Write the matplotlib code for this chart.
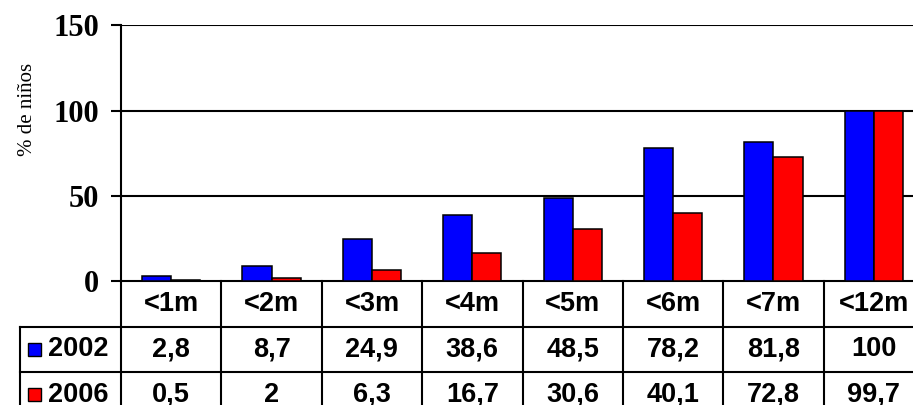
import matplotlib
matplotlib.use('Agg')
from matplotlib import pyplot as plt
import numpy as np

categories = ['<1m', '<2m', '<3m', '<4m', '<5m', '<6m', '<7m', '<12m']
series_names = ['2002', '2006']
values_2002 = [2.8, 8.7, 24.9, 38.6, 48.5, 78.2, 81.8, 100]
values_2006 = [0.5, 2, 6.3, 16.7, 30.6, 40.1, 72.8, 99.7]
colors = ['#0000ff', '#ff0000']
yticks = [0, 50, 100, 150]

W, H = 913, 405
fig = plt.figure(figsize=(W / 100, H / 100), dpi=100)
# axes deliberately runs past the right edge, like the original crop
ax = fig.add_axes([121 / W, (H - 281) / H, (924 - 121) / W, (281 - 25.5) / H])

x = np.arange(len(categories))
bw = 0.29
ax.bar(x - bw / 2, values_2002, bw, color=colors[0], edgecolor='black', linewidth=1.1, zorder=3)
ax.bar(x + bw / 2, values_2006, bw, color=colors[1], edgecolor='black', linewidth=1.1, zorder=3)

ax.set_xlim(-0.5, len(categories) - 0.5)
ax.set_ylim(0, 150)
ax.set_yticks(yticks)
ax.set_yticklabels([str(t) for t in yticks], fontfamily='Liberation Serif',
                   fontweight='bold', fontsize=22)
ax.tick_params(axis='y', length=7, width=1.5, pad=9, direction='out')
ax.set_xticks([])
for t in yticks[1:]:
    ax.axhline(t, color='black', linewidth=1.5, zorder=1)
for s in ['top', 'right']:
    ax.spines[s].set_visible(False)
ax.spines['left'].set_linewidth(1.5)
ax.spines['bottom'].set_linewidth(1.5)

fig.text(28 / W, (H - 109) / H, '% de niños', rotation=90, ha='center', va='center',
         fontfamily='Liberation Serif', fontsize=15)

# data table under the axis
tr = ax.get_xaxis_transform()
axh = 281 - 25.5
rows_px = [281, 327, 372, 417]
rows = [(281 - p) / axh for p in rows_px]
x_left = (20 - 121) / ((924 - 121) / len(categories)) - 0.5
xr = len(categories) - 0.5
lw = 1.5
for i in range(len(categories) + 1):
    ax.plot([i - 0.5, i - 0.5], [rows[0], rows[-1]], color='black', lw=lw,
            transform=tr, clip_on=False)
ax.plot([x_left, x_left], [rows[1], rows[-1]], color='black', lw=lw, transform=tr, clip_on=False)
for r in rows[1:3]:
    ax.plot([x_left, xr], [r, r], color='black', lw=lw, transform=tr, clip_on=False)

tfont = dict(fontfamily='Liberation Sans', fontweight='bold', fontsize=19.5)
for i, c in enumerate(categories):
    ax.text(i, (rows[0] + rows[1]) / 2, c, ha='center', va='center', transform=tr,
            clip_on=False, **tfont)


def fmt(v):
    return f'{v:g}'.replace('.', ',')


for k, (name, vals) in enumerate(zip(series_names, [values_2002, values_2006])):
    yc = (rows[k + 1] + rows[k + 2]) / 2
    for i, v in enumerate(vals):
        ax.text(i, yc, fmt(v), ha='center', va='center', transform=tr, clip_on=False, **tfont)
    # legend key square
    kx = (28 - 121) / 100.4 - 0.5
    ky = yc - (6.5 / axh)
    ax.add_patch(plt.Rectangle((kx, ky), 13 / 100.4, 13 / axh, transform=tr,
                               facecolor=colors[k], edgecolor='black', lw=1.0, clip_on=False))
    ax.text((48 - 121) / 100.4 - 0.5, yc, name, ha='left', va='center', transform=tr,
            clip_on=False, **tfont)

fig.savefig('out.png', dpi=100, facecolor='white')
